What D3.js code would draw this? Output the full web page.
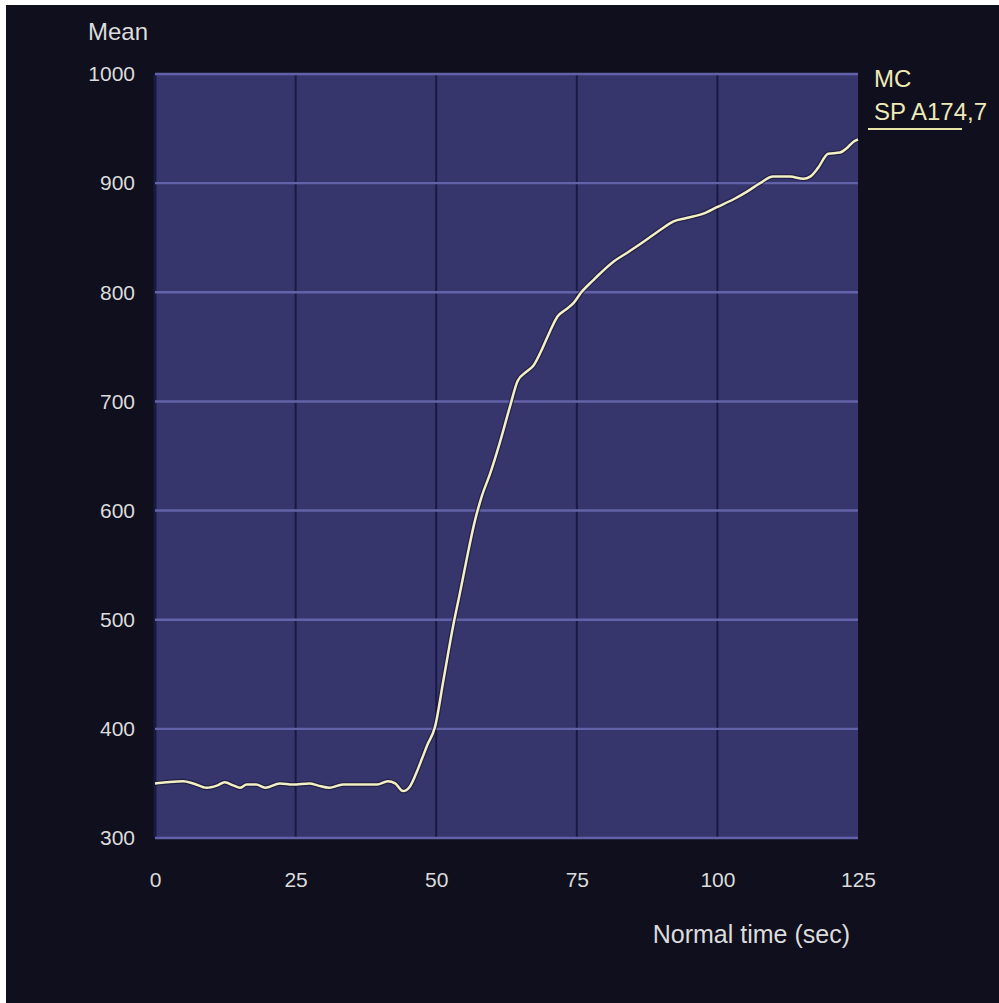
<!DOCTYPE html>
<html>
<head>
<meta charset="utf-8">
<script src="https://cdn.jsdelivr.net/npm/d3@7"></script>
<style>
  html, body { margin: 0; padding: 0; background: #ffffff; }
  svg { display: block; }
  .tick text { fill: #dcdcdc; font-family: "Liberation Sans", Arial, sans-serif; font-size: 21px; }
</style>
</head>
<body>
<div id="chart"></div>
<script>
// values
const timeSec = [0, 2, 5, 6.8, 9.2, 11, 12.4, 14, 15.1, 16.3, 18, 19.6, 22.2, 24.5, 27.5, 29, 31, 33.4,
  36, 39.5, 41.4, 42.7, 44.1, 45.3, 46.5, 47.5, 48.4, 49.8, 51.3, 53, 54.2, 55.4, 56.9, 58.1, 59.6,
  61.3, 63.1, 64.5, 66, 67.3, 69, 70.3, 71.6, 73, 74.4, 75.8, 77.9, 79.1, 81.5, 83.9, 86.8, 89.8,
  92.2, 94.5, 97.5, 99.9, 102.8, 105.2, 107.6, 109.9, 112.9, 115.3, 116.5, 117.9, 119.7, 121.8,
  123, 124.2, 125];
const meanValues = [350, 351, 352, 350, 346, 348, 351, 348, 346, 349, 349, 346, 350, 349, 350, 348, 346, 349,
  349, 349, 352, 350, 343, 347, 360, 373, 385, 402, 445, 494, 524, 555, 591, 613, 634,
  662, 695, 719, 727, 733, 750, 765, 778, 784, 790, 800, 811, 817, 828, 836, 846, 857,
  865, 868, 872, 878, 885, 892, 900, 906, 906, 904, 906, 914, 927, 928,
  932, 938, 940];
const xTicks = [0, 25, 50, 75, 100, 125];
const yTicks = [300, 400, 500, 600, 700, 800, 900, 1000];
const legendLines = ['MC', 'SP A174,7'];

const w = 999, h = 1003;
const margins = { left: 155, right: 141, top: 74, bottom: 165 };
const width = w - margins.left - margins.right;
const height = h - margins.top - margins.bottom;

const svg = d3.select('#chart').append('svg')
  .attr('width', w)
  .attr('height', h);

// dark backdrop, the thin white edge at top/left stays visible
svg.append('rect')
  .attr('x', 6).attr('y', 5)
  .attr('width', w - 6).attr('height', h - 5)
  .attr('fill', '#0f0f1d');

const x = d3.scaleLinear().domain([0, 125]).range([0, width]);
const y = d3.scaleLinear().domain([300, 1000]).range([height, 0]);

const vis = svg.append('g')
  .attr('transform', 'translate(' + margins.left + ',' + margins.top + ')');

vis.append('rect')
  .attr('width', width)
  .attr('height', height)
  .attr('fill', '#37366c');

// vertical grid (dark)
vis.append('g')
  .selectAll('line')
  .data(xTicks)
  .enter()
  .append('line')
  .attr('x1', d => x(d)).attr('x2', d => x(d))
  .attr('y1', 0).attr('y2', height)
  .attr('stroke', d => d === 125 ? 'none' : '#1a1944')
  .attr('stroke-width', d => d === 0 ? 3 : 2);

// horizontal grid (light)
vis.append('g')
  .selectAll('line')
  .data(yTicks)
  .enter()
  .append('line')
  .attr('x1', 0).attr('x2', width)
  .attr('y1', d => y(d)).attr('y2', d => y(d))
  .attr('stroke', '#6262a8')
  .attr('stroke-width', 2.4);

const line = d3.line()
  .x((d, i) => x(timeSec[i]))
  .y(d => y(d))
  .curve(d3.curveMonotoneX);

vis.append('path')
  .datum(meanValues)
  .attr('fill', 'none')
  .attr('stroke', '#15142e')
  .attr('stroke-opacity', 0.6)
  .attr('stroke-width', 5)
  .attr('d', line);

vis.append('path')
  .datum(meanValues)
  .attr('fill', 'none')
  .attr('stroke', '#f2f0c4')
  .attr('stroke-width', 2.5)
  .attr('stroke-linejoin', 'round')
  .attr('d', line);

// axes (labels only)
const yAxis = d3.axisLeft(y)
  .tickValues(yTicks)
  .tickSize(0)
  .tickPadding(20)
  .tickFormat(d3.format('d'));

vis.append('g')
  .attr('class', 'y axis')
  .call(yAxis)
  .call(g => g.select('.domain').remove());

const xAxis = d3.axisBottom(x)
  .tickValues(xTicks)
  .tickSize(0)
  .tickPadding(34)
  .tickFormat(d3.format('d'));

vis.append('g')
  .attr('class', 'x axis')
  .attr('transform', 'translate(0,' + height + ')')
  .call(xAxis)
  .call(g => g.select('.domain').remove());

svg.append('text')
  .attr('x', 88)
  .attr('y', 40)
  .attr('fill', '#dcdcdc')
  .style('font-family', '"Liberation Sans", Arial, sans-serif')
  .style('font-size', '24px')
  .text('Mean');

svg.append('text')
  .attr('x', 850)
  .attr('y', 943)
  .attr('text-anchor', 'end')
  .attr('fill', '#dcdcdc')
  .style('font-family', '"Liberation Sans", Arial, sans-serif')
  .style('font-size', '25px')
  .text('Normal time (sec)');

// legend
const legend = svg.append('g').attr('class', 'legend');
legend.selectAll('text')
  .data(legendLines)
  .enter()
  .append('text')
  .attr('x', 874)
  .attr('y', (d, i) => 87 + i * 33)
  .attr('fill', '#eeeab8')
  .style('font-family', '"Liberation Sans", Arial, sans-serif')
  .style('font-size', '24px')
  .text(d => d);

legend.append('line')
  .attr('x1', 868).attr('x2', 962)
  .attr('y1', 129).attr('y2', 129)
  .attr('stroke', '#e8e4a8')
  .attr('stroke-width', 2);
</script>
</body>
</html>
